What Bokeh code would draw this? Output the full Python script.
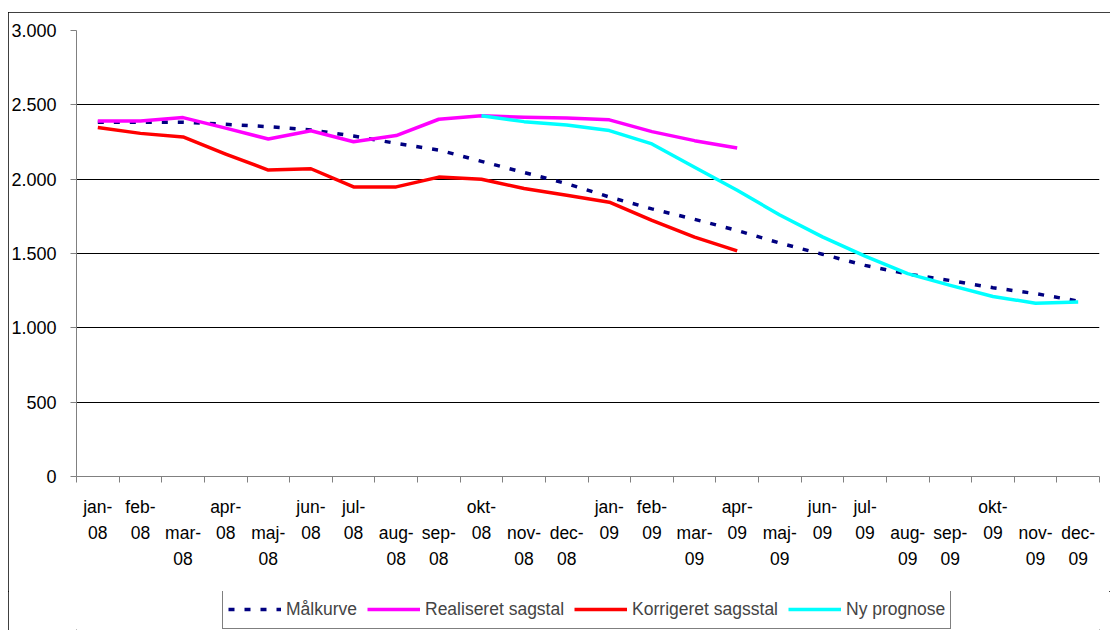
from bokeh.plotting import figure
from bokeh.models import FixedTicker, Legend, LegendItem, Column
from bokeh.embed import file_html
from bokeh.resources import INLINE

categories = ["jan-08", "feb-08", "mar-08", "apr-08", "maj-08", "jun-08",
              "jul-08", "aug-08", "sep-08", "okt-08", "nov-08", "dec-08",
              "jan-09", "feb-09", "mar-09", "apr-09", "maj-09", "jun-09",
              "jul-09", "aug-09", "sep-09", "okt-09", "nov-09", "dec-09"]

maalkurve = [2383, 2383, 2383, 2369, 2353, 2331, 2290, 2241, 2196, 2120, 2045, 1970,
             1880, 1800, 1730, 1655, 1570, 1495, 1420, 1362, 1318, 1270, 1230, 1180]
realiseret = [2392, 2392, 2414, 2343, 2270, 2326, 2252, 2293, 2403, 2426, 2417, 2412,
              2399, 2320, 2259, 2209]
korrigeret = [2347, 2308, 2284, 2169, 2061, 2070, 1948, 1948, 2014, 2000, 1937, 1892,
              1845, 1723, 1610, 1518]
prognose_start = "okt-08"
ny_prognose = [2426, 2387, 2365, 2327, 2237, 2080, 1925, 1759, 1612, 1482, 1365, 1286,
               1211, 1166, 1173]

series_names = ["Målkurve", "Realiseret sagstal", "Korrigeret sagsstal", "Ny prognose"]
series_colors = ["#000080", "#FF00FF", "#FF0000", "#00FFFF"]
series_dash = ["6 10", "solid", "solid", "solid"]

y_ticks = [0, 500, 1000, 1500, 2000, 2500, 3000]
y_tick_labels = ["0", "500", "1.000", "1.500", "2.000", "2.500", "3.000"]

# months whose wrapped label Excel drops one row lower
low_months = {"mar", "maj", "aug", "sep", "nov", "dec"}

FONT = "Liberation Sans"

x = list(range(len(categories)))
p = figure(width=1102, height=579,
           x_range=(-0.5, len(categories) - 0.5), y_range=(0, 3000),
           output_backend="svg", toolbar_location=None,
           min_border_left=68, min_border_right=11, min_border_top=18,
           min_border_bottom=115)
p.outline_line_color = None
p.background_fill_color = "white"
p.border_fill_color = "white"

ys = [maalkurve, realiseret, korrigeret, ny_prognose]
s = categories.index(prognose_start)
starts = [0, 0, 0, s]
for yv, st, col, dash in zip(ys, starts, series_colors, series_dash):
    p.line(x[st:st + len(yv)], yv, line_color=col, line_width=3.5,
           line_dash=dash, line_join="round" if dash == "solid" else "miter")

# x axis
overrides = {}
for i, c in enumerate(categories):
    m, yy = c.split("-")
    txt = m + "-\n" + yy
    if m in low_months:
        txt = "\n" + txt
    overrides[i] = txt
xax = p.xaxis[0]
xax.ticker = FixedTicker(ticks=x, minor_ticks=[i - 0.5 for i in range(len(categories) + 1)])
xax.major_label_overrides = overrides
xax.major_tick_out = 0
xax.major_tick_in = 0
xax.minor_tick_out = 6
xax.minor_tick_in = 0
xax.minor_tick_line_color = "#808080"
xax.axis_line_color = "#808080"
xax.major_label_text_font = FONT
xax.major_label_text_font_size = "17.5px"
xax.major_label_text_color = "black"
xax.major_label_text_line_height = 1.3
xax.major_label_standoff = 14

# y axis
yax = p.yaxis[0]
yax.ticker = FixedTicker(ticks=y_ticks)
yax.major_label_overrides = dict(zip(y_ticks, y_tick_labels))
yax.major_tick_out = 6
yax.major_tick_in = 0
yax.minor_tick_line_color = None
yax.major_tick_line_color = "#808080"
yax.axis_line_color = "#808080"
yax.major_label_text_font = FONT
yax.major_label_text_font_size = "18px"
yax.major_label_text_color = "black"
yax.major_label_standoff = 14

p.xgrid.visible = False
p.ygrid.grid_line_color = "black"
p.ygrid.grid_line_width = 1

# legend strip (separate small figure so the legend is not clipped)
p2 = figure(width=1102, height=39, x_range=(0, 1), y_range=(0, 1),
            x_axis_type=None, y_axis_type=None,
            output_backend="svg", toolbar_location=None,
            min_border_left=0, min_border_right=0, min_border_top=0,
            min_border_bottom=0)
p2.outline_line_color = None
p2.background_fill_color = "white"
p2.border_fill_color = "white"
legend_renderers = []
for col, dash in zip(series_colors, series_dash):
    # single-point line: draws nothing itself, only supplies the legend swatch
    legend_renderers.append(p2.line([-1], [-1], line_color=col, line_width=3.5,
                                    line_dash=dash))

legend = Legend(items=[LegendItem(label=n, renderers=[r]) for n, r in
                       zip(series_names, legend_renderers)],
                orientation="horizontal", location=(146, 1))
legend.label_text_font = FONT
legend.label_text_font_size = "17.5px"
legend.glyph_width = 53
legend.glyph_height = 20
legend.label_standoff = 5
legend.spacing = 10
legend.padding = 5
legend.label_height = 28
legend.border_line_color = "black"
legend.border_line_width = 1
legend.margin = 0
p2.add_layout(legend, "center")

layout = Column(p, p2, spacing=0)
layout.margin = (12, 0, 0, 8)
layout.styles = {"outline": "1px solid black", "outline-offset": "-1px"}

open("out.html", "w").write(file_html(layout, INLINE))
